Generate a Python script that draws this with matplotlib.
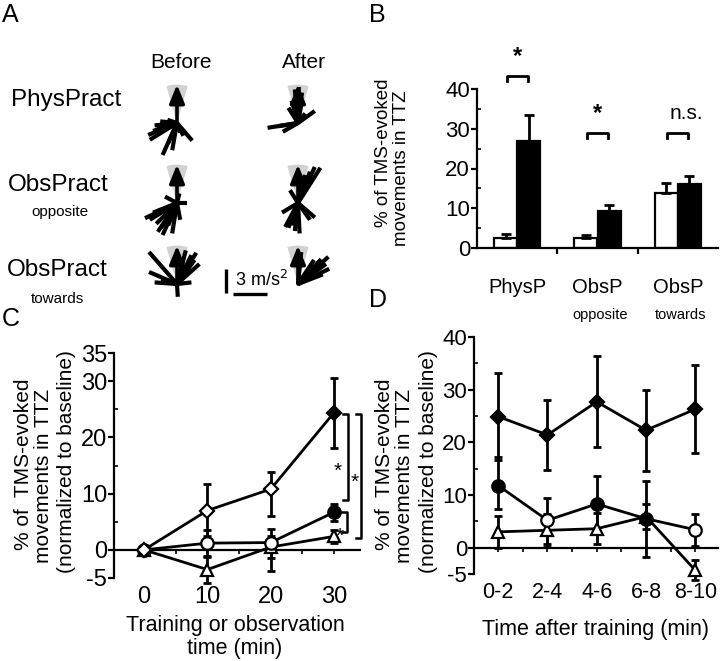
import numpy as np
import matplotlib
matplotlib.use('Agg')
import matplotlib.pyplot as plt
from matplotlib.patches import Wedge
from matplotlib.ticker import FixedLocator

plt.rcParams['font.family'] = ['Liberation Sans', 'DejaVu Sans']
plt.rcParams['axes.unicode_minus'] = False

# ---------------- Panel A data: TMS-evoked acceleration vectors (m/s^2) ----------------
a_rows = ['PhysPract', 'ObsPract', 'ObsPract']
a_row_sub = ['', 'opposite', 'towards']
a_cols = ['Before', 'After']
target_len = 4.8  # m/s^2, length of the training-target arrow
# x / y components for each rosette
phys_before_x = [-3.6, -3.4, -2.5, -1.8, -0.6, 1.9, 0.8, -2.1, -1.5, -3.0, -1.1, 0.4, -2.8, -1.2]
phys_before_y = [-1.5, -2.1, -0.6, -4.0, -3.4, -2.2, -1.6, 0.2, -0.2, -1.0, -2.5, -1.2, -0.3, 0.4]
phys_after_x = [-3.8, -1.9, 2.1, -1.2, -0.4, 0.5, -0.8, 0.9, 0.2, -2.5, -0.5, 0.4, -0.2, 0.1]
phys_after_y = [-0.6, -1.1, 1.5, 1.9, 4.2, 3.8, 2.8, 1.2, 3.4, -0.4, 1.5, 2.2, 3.0, 4.5]
opp_before_x = [-3.4, -2.4, -1.8, -0.6, 0.4, 1.2, -1.5, -3.0, -1.1, -4.0, -2.0, 0.0, -2.6, 0.3]
opp_before_y = [-2.1, -3.6, -4.0, -3.8, -2.1, 0.0, 0.8, -1.2, -2.8, -1.9, -3.1, -0.9, -2.6, 1.2]
opp_after_x = [2.8, 2.1, 1.5, 0.9, -2.0, -1.6, -1.2, 0.2, 2.1, 1.5, -0.8, -1.0, -0.4, 0.6]
opp_after_y = [4.4, 4.5, 3.9, 3.5, -1.2, -3.0, -3.1, -3.8, -1.8, -2.1, -2.8, 1.6, -3.5, 2.8]
tow_before_x = [-3.5, -3.5, 2.4, 1.8, 1.1, 0.8, 0.1, 1.8, -2.0, 2.8, -2.8, 1.5, 2.2]
tow_before_y = [4.0, 1.5, 3.9, 3.6, 4.2, 3.2, -1.6, 0.2, 0.5, 2.5, 0.2, 2.0, 3.0]
tow_after_x = [3.8, 3.5, 2.9, 3.9, 2.5, 1.6, 0.4, 3.1, 2.0]
tow_after_y = [3.4, 2.5, 3.1, 1.9, 2.4, 1.5, 4.0, 1.2, 3.0]
scale_label = '3 m/s$^2$'
scale_value = 3.0

# ---------------- Panel B data ----------------
b_groups = ['PhysP', 'ObsP', 'ObsP']
b_sub = ['', 'opposite', 'towards']
b_before = [2.5, 2.5, 13.8]
b_before_err = [1.0, 0.7, 2.5]
b_after = [26.8, 9.2, 16.2]
b_after_err = [6.7, 1.5, 2.0]
b_sig = ['*', '*', 'n.s.']
b_sig_level = [43.3, 29.0, 29.0]

# ---------------- Panel C data ----------------
c_time = [0, 10, 20, 30]
c_phys = [0, 7.0, 10.8, 24.4]
c_phys_lo = [0, 4.6, 4.7, 6.2]
c_phys_hi = [0, 4.7, 3.0, 6.2]
c_opp = [0, 1.2, 1.3, 6.7]
c_opp_lo = [0, 2.4, 2.8, 1.5]
c_opp_hi = [0, 2.4, 2.4, 1.4]
c_tow = [0, -3.5, 0.5, 2.4]
c_tow_lo = [0, 2.4, 4.3, 1.1]
c_tow_hi = [0, 2.4, 2.0, 1.2]
c_yticks = [-5, 0, 10, 20, 30, 35]
c_brackets = [(24.2, 8.9), (24.2, 2.2), (6.7, 3.1)]

# ---------------- Panel D data ----------------
d_labels = ['0-2', '2-4', '4-6', '6-8', '8-10']
d_phys = [24.9, 21.4, 27.7, 22.3, 26.3]
d_phys_err = [8.2, 6.6, 8.6, 7.7, 8.4]
d_opp = [11.8, 5.2, 8.3, 5.5, 3.4]
d_opp_lo = [4.5, 4.5, 5.3, 7.2, 3.0]
d_opp_hi = [5.4, 4.3, 5.3, 7.2, 3.0]
d_tow = [3.0, 3.3, 3.6, 5.9, -4.3]
d_tow_err = [3.1, 3.1, 2.9, 2.4, 1.9]
d_yticks = [-5, 0, 10, 20, 30, 40]

W, H = 720, 661
fig = plt.figure(figsize=(W / 100, H / 100), dpi=100)


def rect(x0, y0, x1, y1):
    return [x0 / W, 1 - y1 / H, (x1 - x0) / W, (y1 - y0) / H]


def ftext(x, y, s, **kw):
    fig.text(x / W, 1 - y / H, s, **kw)


LW = 1.6

# ================= Panel A =================
axA = fig.add_axes(rect(0, 0, 360, 320))
axA.set_xlim(0, 360)
axA.set_ylim(320, 0)
axA.axis('off')
S = 8.0  # px per m/s^2
col_x = [177, 298]
row_y = [123, 203, 284]
vecs = [[(phys_before_x, phys_before_y), (phys_after_x, phys_after_y)],
        [(opp_before_x, opp_before_y), (opp_after_x, opp_after_y)],
        [(tow_before_x, tow_before_y), (tow_after_x, tow_after_y)]]
for r in range(3):
    for c in range(2):
        cx, cy = col_x[c], row_y[r]
        h = target_len * S
        axA.add_patch(Wedge((cx, cy), h, 254, 286, color='#d2d2d2', lw=0, zorder=1))
        vx, vy = vecs[r][c]
        for x, y in zip(vx, vy):
            axA.plot([cx, cx + x * S], [cy, cy - y * S], color='black', lw=3.0,
                     solid_capstyle='butt', zorder=2)
        axA.annotate('', xy=(cx, cy - h), xytext=(cx, cy),
                     arrowprops=dict(arrowstyle='-|>,head_length=1.1,head_width=0.45',
                                     color='black', lw=2.6, shrinkA=0, shrinkB=0),
                     zorder=3)
# scale bar
axA.plot([226, 226], [293, 293 - scale_value * S], color='black', lw=2.4, solid_capstyle='butt')
axA.plot([233, 267], [294, 294], color='black', lw=2.4, solid_capstyle='butt')
axA.text(235, 286, scale_label, fontsize=13, va='baseline', ha='left')

ftext(2, 22, 'A', fontsize=18, va='baseline')
ftext(181, 68, a_cols[0], fontsize=15, ha='center', va='baseline')
ftext(304, 68, a_cols[1], fontsize=15, ha='center', va='baseline')
ftext(11, 106, a_rows[0], fontsize=17.5, va='baseline')
ftext(8, 191, a_rows[1], fontsize=17.5, va='baseline')
ftext(31, 216, a_row_sub[1], fontsize=11, va='baseline')
ftext(7, 276, a_rows[2], fontsize=17.5, va='baseline')
ftext(31, 303, a_row_sub[2], fontsize=11, va='baseline')

# ================= Panel B =================
axB = fig.add_axes(rect(477, 89, 718, 248))
x = np.arange(len(b_groups))
w = 0.29
zeros = np.zeros(len(x))
axB.bar(x - w / 2, b_before, w, color='white', edgecolor='black', lw=LW, zorder=2)
axB.bar(x + w / 2, b_after, w, color='black', edgecolor='black', lw=LW, zorder=2)
axB.errorbar(x - w / 2, b_before, yerr=[zeros, b_before_err], fmt='none', ecolor='black',
             elinewidth=2, capsize=3.5, capthick=2, zorder=3)
axB.errorbar(x + w / 2, b_after, yerr=[zeros, b_after_err], fmt='none', ecolor='black',
             elinewidth=2, capsize=3.5, capthick=2, zorder=3)
axB.set_xlim(-0.5, 2.5)
axB.set_ylim(0, 40)
for s in ['top', 'right']:
    axB.spines[s].set_visible(False)
for s in ['left', 'bottom']:
    axB.spines[s].set_linewidth(LW)
axB.set_yticks([0, 10, 20, 30, 40])
axB.yaxis.set_minor_locator(FixedLocator([5, 15, 25, 35]))
axB.tick_params(axis='y', which='major', labelsize=16, length=4, width=LW, pad=1)
axB.tick_params(axis='y', which='minor', direction='in', length=3, width=1.2)
axB.set_xticks([0.5, 1.5])
axB.tick_params(axis='x', which='major', labelbottom=False, length=4, width=LW)
for i in range(len(b_groups)):
    lvl = b_sig_level[i]
    axB.plot([i - 0.13, i - 0.13, i + 0.13, i + 0.13], [lvl - 1.3, lvl, lvl, lvl - 1.3],
             color='black', lw=2, clip_on=False)
    if b_sig[i] == '*':
        axB.text(i, lvl + 2.0, '*', fontsize=17, ha='center', va='bottom', fontweight='bold')
    else:
        axB.text(i + 0.11, lvl + 2.5, b_sig[i], fontsize=15, ha='center', va='bottom')
    axB.text(i, -0.28, b_groups[i], transform=axB.get_xaxis_transform(), fontsize=14.5,
             ha='center', va='baseline')
    if b_sub[i]:
        axB.text(i + 0.03, -0.445, b_sub[i], transform=axB.get_xaxis_transform(), fontsize=10.5,
                 ha='center', va='baseline')
ftext(383, 153, '% of TMS-evoked', fontsize=13.5, rotation=90, ha='center', va='center')
ftext(402, 168, 'movements in TTZ', fontsize=13.5, rotation=90, ha='center', va='center')
ftext(369, 22, 'B', fontsize=18, va='baseline')


def style_line_axes(ax, yticks, ylim, xticks, xlabels, xminor):
    ax.set_ylim(*ylim)
    for s in ['top', 'right']:
        ax.spines[s].set_visible(False)
    ax.spines['left'].set_linewidth(LW)
    ax.spines['bottom'].set_linewidth(LW)
    ax.spines['bottom'].set_position(('data', 0))
    ax.set_yticks(yticks)
    ax.tick_params(axis='y', which='major', length=4, width=LW, pad=1)
    ax.tick_params(axis='y', which='minor', direction='in', length=3, width=1.2)
    ax.set_xticks(xticks)
    ax.xaxis.set_minor_locator(FixedLocator(xminor))
    ax.tick_params(axis='x', which='both', labelbottom=False, length=3, width=1.2)
    sec = ax.secondary_xaxis(0)
    sec.set_xticks(xticks, xlabels)
    sec.spines['bottom'].set_visible(False)
    sec.tick_params(length=0, pad=6)
    return sec


def draw_series(ax, xs, ys, lo, hi, marker, ms, fills):
    eb = ax.errorbar(xs, ys, yerr=[lo, hi], fmt='none', ecolor='black', elinewidth=2,
                     capsize=3, capthick=2, zorder=3)
    for art in eb.lines[1] + eb.lines[2]:
        art.set_clip_on(False)
    ax.plot(xs, ys, color='black', lw=2, zorder=4, clip_on=False)
    for xi, yi, f in zip(xs, ys, fills):
        ax.plot([xi], [yi], marker=marker, ms=ms, mfc='black' if f else 'white',
                mec='black', mew=1.6, zorder=5, clip_on=False)


# ================= Panel C =================
axC = fig.add_axes(rect(114, 353, 360, 578))
axC.set_xlim(-4.74, 34.1)
secC = style_line_axes(axC, c_yticks, (-5, 35), c_time, [str(t) for t in c_time], [5, 15, 25])
axC.yaxis.set_minor_locator(FixedLocator([5, 15, 25]))
axC.tick_params(axis='y', labelsize=17)
secC.tick_params(labelsize=17)
draw_series(axC, c_time, c_tow, c_tow_lo, c_tow_hi, '^', 8, [0, 0, 0, 0])
draw_series(axC, c_time, c_opp, c_opp_lo, c_opp_hi, 'o', 9, [0, 0, 0, 1])
draw_series(axC, c_time, c_phys, c_phys_lo, c_phys_hi, 'D', 7, [0, 0, 0, 1])
bx = [32.2, 34.3, 32.1]
for (top, bot), xb in zip(c_brackets, bx):
    axC.plot([xb - 0.8, xb, xb, xb - 0.8], [top, top, bot, bot], color='black', lw=1.8,
             clip_on=False, zorder=6)
axC.text(30.5, 14.0, '*', fontsize=15, ha='center', va='center', clip_on=False, zorder=7)
axC.text(33.3, 12.0, '*', fontsize=15, ha='center', va='center', clip_on=False, zorder=7)
axC.text(30.9, 2.4, '*', fontsize=15, ha='center', va='center', clip_on=False, zorder=7)
ftext(235, 631, 'Training or observation', fontsize=15.5, ha='center', va='baseline')
ftext(235, 654, 'time (min)', fontsize=15.5, ha='center', va='baseline')
ftext(24, 464, '% of  TMS-evoked', fontsize=15, rotation=90, ha='center', va='center')
ftext(44, 476, 'movements in TTZ', fontsize=15, rotation=90, ha='center', va='center')
ftext(67, 462, '(normalized to baseline)', fontsize=15, rotation=90, ha='center', va='center')
ftext(2, 326, 'C', fontsize=18, va='baseline')

# ================= Panel D =================
axD = fig.add_axes(rect(474, 337, 718, 574))
xd = np.arange(len(d_labels))
axD.set_xlim(-0.49, 4.46)
secD = style_line_axes(axD, d_yticks, (-5, 40), list(xd), d_labels, [0.5, 1.5, 2.5, 3.5])
axD.yaxis.set_minor_locator(FixedLocator([5, 15, 25, 35]))
axD.tick_params(axis='y', labelsize=16)
secD.tick_params(labelsize=15.5)
draw_series(axD, xd, d_tow, d_tow_err, d_tow_err, '^', 8, [0] * 5)
draw_series(axD, xd, d_opp, d_opp_lo, d_opp_hi, 'o', 9, [1, 0, 1, 1, 0])
draw_series(axD, xd, d_phys, d_phys_err, d_phys_err, 'D', 7, [1] * 5)
ftext(596, 635, 'Time after training (min)', fontsize=15.5, ha='center', va='baseline')
ftext(384, 464, '% of  TMS-evoked', fontsize=15, rotation=90, ha='center', va='center')
ftext(404, 476, 'movements in TTZ', fontsize=15, rotation=90, ha='center', va='center')
ftext(428, 462, '(normalized to baseline)', fontsize=15, rotation=90, ha='center', va='center')
ftext(369, 307, 'D', fontsize=18, va='baseline')

fig.savefig('out.png', dpi=100)
